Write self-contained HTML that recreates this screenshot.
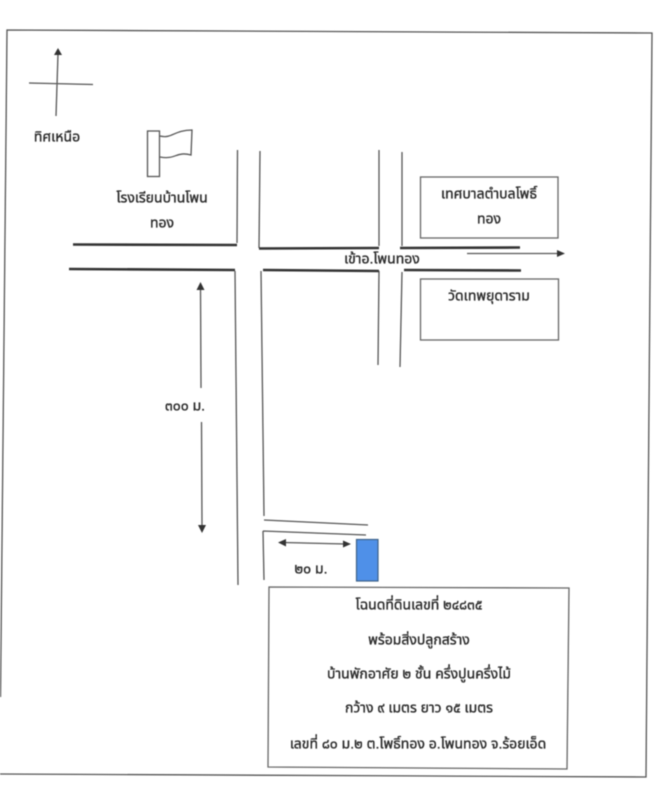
<!DOCTYPE html>
<html><head><meta charset="utf-8">
<style>
html,body{margin:0;padding:0;background:#fff;width:666px;height:800px;overflow:hidden}
svg{display:block;filter:blur(.4px)}
text{font-family:"Liberation Sans","Noto Sans Thai","Loma","Garuda","Noto Sans CJK SC",sans-serif;font-size:14px;fill:#2a2a2a;stroke:#2a2a2a;stroke-width:.35px;text-anchor:middle;dominant-baseline:middle}
.n{fill:none;stroke:#555;stroke-width:1.3}
.t{fill:none;stroke:#333;stroke-width:2.6}
.b{fill:#fff;stroke:#666;stroke-width:1.3}
.a{fill:#333;stroke:none}
</style></head><body>
<svg width="666" height="800" viewBox="0 0 666 800" xmlns="http://www.w3.org/2000/svg">
<path class="n" d="M0.500 697L7 30L652 33L646 777L0 774"/>
<path class="n" d="M58 54L56 116M29 83L93 84.500"/>
<path class="a" d="M58 48L62 55L54 55Z"/>
<text x="57" y="138">ทิศเหนือ</text>
<rect class="n" x="147.500" y="131" width="12" height="45.500"/>
<path class="n" d="M160 136C172 139 174 130 192 130L191 155C176 151 176 160 160 157"/>
<text x="162" y="199">โรงเรียนบ้านโพน</text>
<text x="162" y="224">ทอง</text>
<path class="n" d="M237.500 150L237 243M260 151L259 248M379 150L379 246M402 152L402 246M235 271L238 585M261 271L264 516M379 271L378 365M402 272L400 367M264 520L368 525M263 531L366 535M263 531L264 580"/>
<path class="t" d="M73 244.500L237 245M259 248.500L379 248M400 248L520 247.500M69 269L235 270M263 270L379 271M404 270L521 270.500"/>
<rect class="b" x="420.500" y="177" width="137.500" height="61"/>
<text x="489" y="195">เทศบาลตำบลโพธิ์</text>
<text x="489" y="220">ทอง</text>
<rect class="b" x="420.500" y="279" width="138" height="61"/>
<text x="489" y="297">วัดเทพยุดาราม</text>
<path class="n" d="M467 253.500L558 253.500"/>
<path class="a" d="M565 253.500L557 250L557 257Z"/>
<text x="382" y="260">เข้าอ.โพนทอง</text>
<path class="n" d="M200.500 288L201 388M201.500 422L202 526"/>
<path class="a" d="M200.500 282L204.500 290L196.500 290ZM202 533L198 525L206 525Z"/>
<text x="185" y="407">๓๐๐ ม.</text>
<path class="n" d="M284 542.500L345 544"/>
<path class="a" d="M278 542.500L286 539L286 546.500ZM351 544L343 540.500L343 547.500Z"/>
<rect x="356.500" y="539.500" width="21.500" height="41.500" fill="#4f90e8" stroke="#3d6288" stroke-width="1.2"/>
<text x="311" y="570">๒๐ ม.</text>
<path class="b" d="M269 587L569 588L567 769L268 767Z"/>
<text x="419" y="606">โฉนดที่ดินเลขที่ ๒๔๘๓๕</text>
<text x="419" y="641">พร้อมสิ่งปลูกสร้าง</text>
<text x="419" y="675">บ้านพักอาศัย ๒ ชั้น ครึ่งปูนครึ่งไม้</text>
<text x="419" y="709">กว้าง ๙ เมตร ยาว ๑๕ เมตร</text>
<text x="418" y="745">เลขที่ ๘๐ ม.๒ ต.โพธิ์ทอง อ.โพนทอง จ.ร้อยเอ็ด</text>
</svg>
</body></html>
